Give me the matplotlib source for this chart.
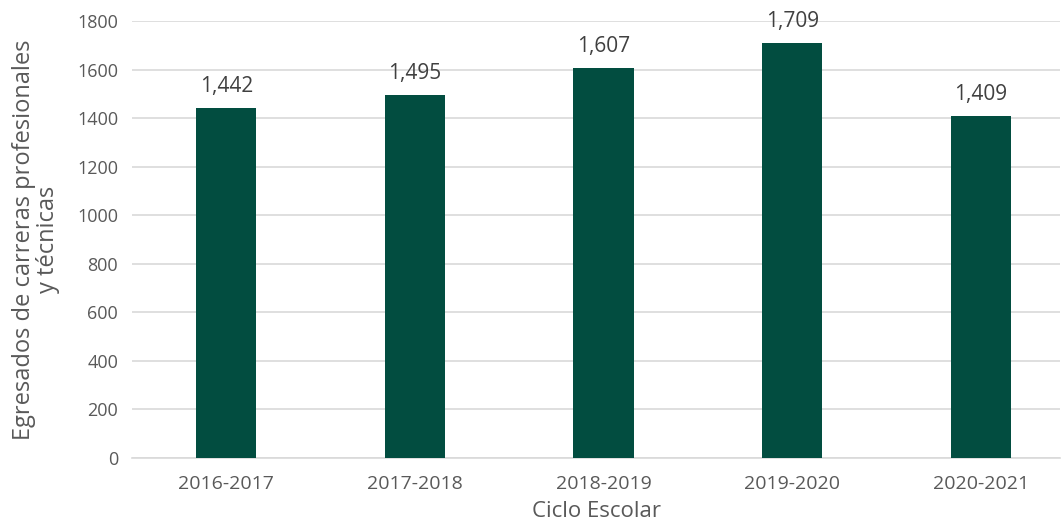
import matplotlib.pyplot as plt

# data
ciclos = ["2016-2017", "2017-2018", "2018-2019", "2019-2020", "2020-2021"]
egresados = [1442, 1495, 1607, 1709, 1409]
y_ticks = [0, 200, 400, 600, 800, 1000, 1200, 1400, 1600, 1800]

plt.rcParams['font.family'] = ['Open Sans', 'DejaVu Sans']
gray = '#595959'

fig = plt.figure(figsize=(10.63, 5.31), dpi=100)
ax = fig.add_axes([132 / 1063, 73 / 531, 928 / 1063, 437 / 531])

x = list(range(len(ciclos)))
bars = ax.bar(x, egresados, width=0.32, color='#024d40', zorder=3)

# value labels
for xi, v in zip(x, egresados):
    ax.text(xi, v + 45, f"{v:,}", ha='center', va='bottom', fontsize=15, color='#404040')

ax.set_xlim(-0.5, 4.42)
ax.set_ylim(0, 1800)
ax.set_yticks(y_ticks)
ax.set_yticklabels([str(t) for t in y_ticks], fontsize=13, color=gray)
ax.set_xticks(x)
ax.set_xticklabels(ciclos, fontsize=14, color=gray)
ax.tick_params(axis='both', length=0, pad=10)
ax.tick_params(axis='x', pad=12)

ax.grid(axis='y', color='#d9d9d9', linewidth=1.2, zorder=0)
for side in ['top', 'right', 'left']:
    ax.spines[side].set_visible(False)
ax.spines['bottom'].set_color('#d9d9d9')
ax.spines['bottom'].set_linewidth(1.2)

ax.set_xlabel("Ciclo Escolar", fontsize=16, color=gray, labelpad=6)
ax.set_ylabel("Egresados de carreras profesionales\ny técnicas", fontsize=17,
              color=gray, labelpad=12, linespacing=1.0)

fig.savefig("out.png", dpi=100)
